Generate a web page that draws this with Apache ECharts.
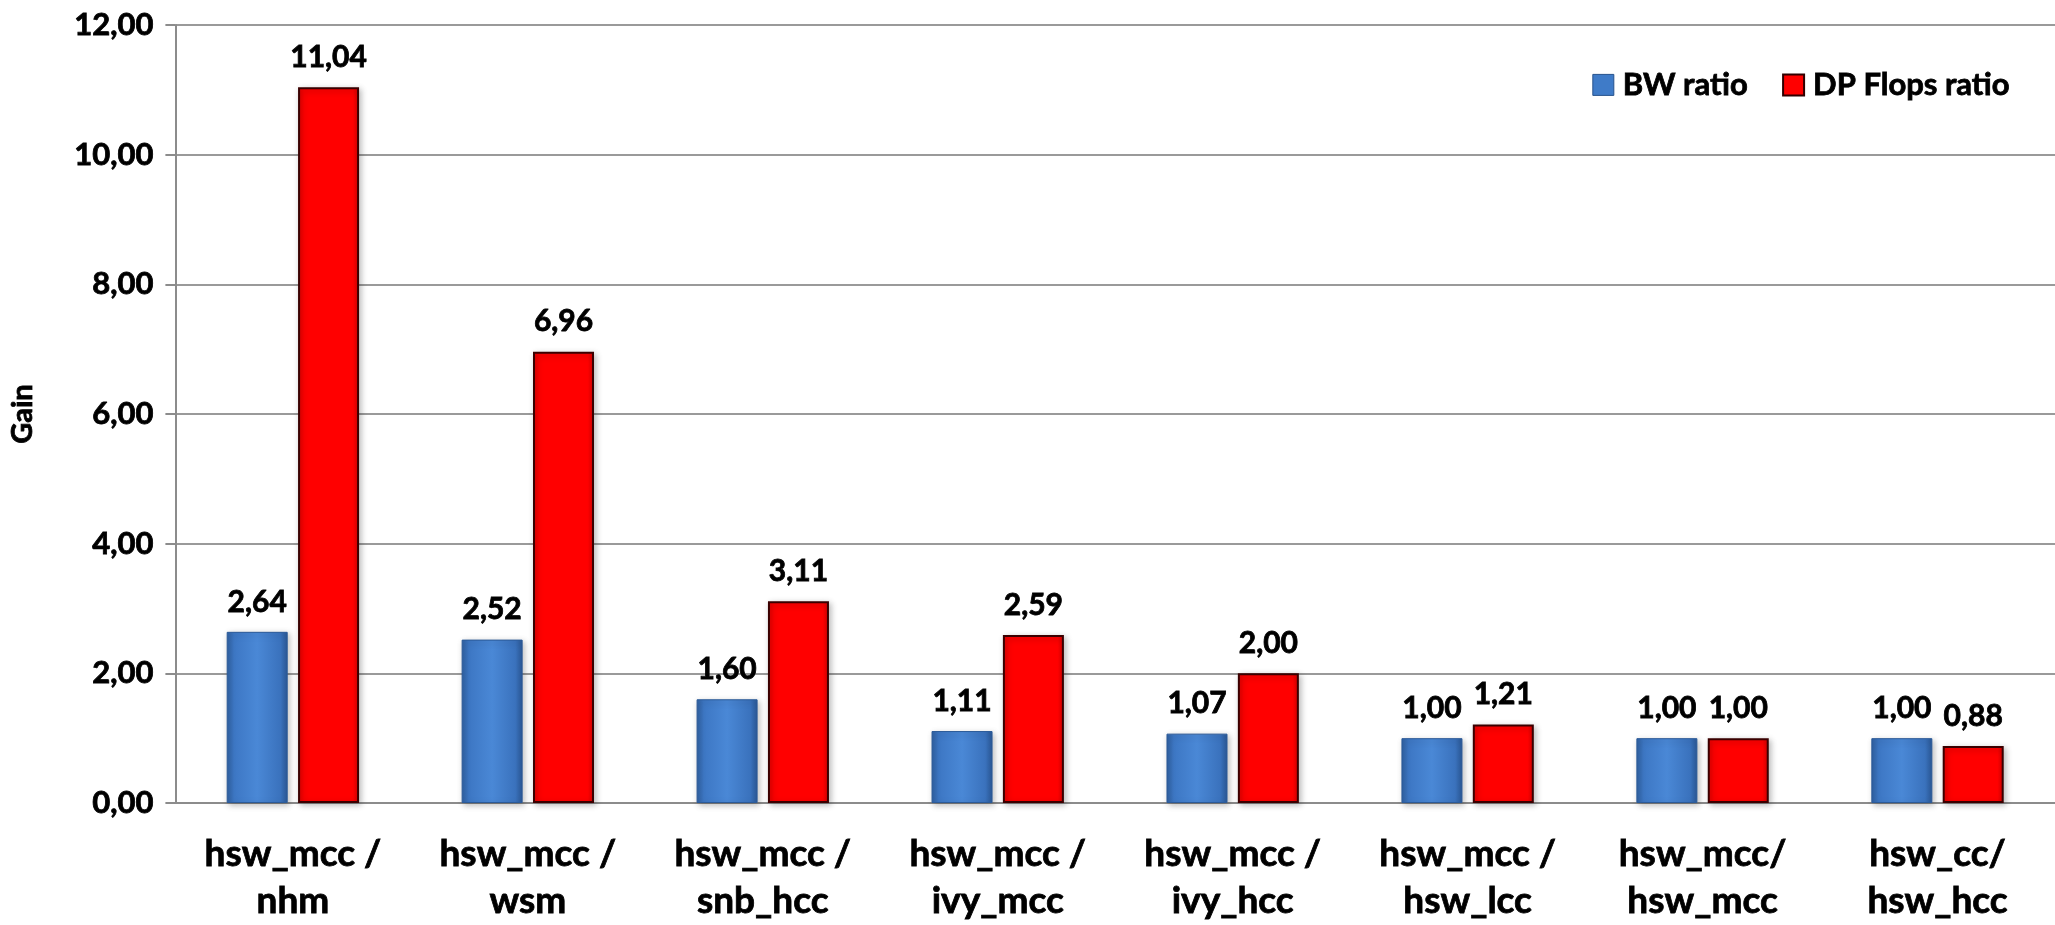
<!DOCTYPE html>
<html>
<head>
<meta charset="utf-8">
<script src="https://cdn.jsdelivr.net/npm/echarts@6/dist/echarts.min.js"></script>
<style>
  html, body { margin: 0; padding: 0; background: #ffffff; }
  #chart { width: 2055px; height: 925px; }
</style>
</head>
<body>
<div id="chart"></div>
<script>
// Architecture comparison: bandwidth ratio vs double-precision FLOPS ratio
const categories = [
  'hsw_mcc /\nnhm',
  'hsw_mcc /\nwsm',
  'hsw_mcc /\nsnb_hcc',
  'hsw_mcc /\nivy_mcc',
  'hsw_mcc /\nivy_hcc',
  'hsw_mcc /\nhsw_lcc',
  'hsw_mcc/\nhsw_mcc',
  'hsw_cc/\nhsw_hcc'
];
const bwRatio = [2.64, 2.52, 1.60, 1.11, 1.07, 1.00, 1.00, 1.00];
const dpFlopsRatio = [11.04, 6.96, 3.11, 2.59, 2.00, 1.21, 1.00, 0.88];
const yTicks = { min: 0, max: 12, interval: 2 };

const FONT = 'Lato, "Open Sans", sans-serif';
const comma = v => Number(v).toFixed(2).replace('.', ',');
// a thin outline in the text colour makes the bold glyphs a little heavier
const heavy = { textBorderColor: '#000', textBorderWidth: 0.8 };

const chart = echarts.init(document.getElementById('chart'), null, { renderer: 'canvas' });

const blueFill = new echarts.graphic.LinearGradient(0, 0, 1, 0, [
  { offset: 0, color: '#2f5f9f' },
  { offset: 0.12, color: '#3d77c4' },
  { offset: 0.5, color: '#4a88d6' },
  { offset: 0.88, color: '#3a72bd' },
  { offset: 1, color: '#2a5794' }
]);
const redFill = new echarts.graphic.LinearGradient(0, 0, 1, 0, [
  { offset: 0, color: '#e00000' },
  { offset: 0.1, color: '#ff0000' },
  { offset: 0.9, color: '#ff0000' },
  { offset: 1, color: '#d00000' }
]);

const dataLabel = Object.assign({
  show: true,
  position: 'top',
  distance: 15,
  formatter: p => comma(p.value),
  fontFamily: FONT,
  fontWeight: 'bold',
  fontSize: 30,
  color: '#000000'
}, heavy);

chart.setOption({
  animation: false,
  backgroundColor: '#ffffff',
  grid: { left: 165, top: 25, width: 1907, height: 778, containLabel: false },
  legend: {
    right: 40,
    top: 64,
    itemWidth: 21,
    itemHeight: 21,
    itemGap: 34,
    icon: 'rect',
    textStyle: Object.assign({ fontFamily: FONT, fontWeight: 'bold', fontSize: 31, color: '#000', padding: [0, 0, 0, 4] }, heavy),
    data: [
      { name: 'BW ratio', itemStyle: { color: '#3f7bc8', borderColor: '#27528c', borderWidth: 1 } },
      { name: 'DP Flops ratio', itemStyle: { color: '#ff0000', borderColor: '#300000', borderWidth: 2 } }
    ]
  },
  xAxis: {
    type: 'category',
    data: categories,
    axisLine: { show: true, lineStyle: { color: '#8c8c8c', width: 2 } },
    axisTick: { show: false },
    axisLabel: Object.assign({
      margin: 28,
      fontFamily: FONT,
      fontWeight: 'bold',
      fontSize: 37,
      lineHeight: 47,
      color: '#000',
      interval: 0
    }, heavy)
  },
  yAxis: {
    type: 'value',
    min: yTicks.min,
    max: yTicks.max,
    interval: yTicks.interval,
    name: 'Gain',
    nameLocation: 'middle',
    nameGap: 138,
    nameTextStyle: Object.assign({ fontFamily: FONT, fontWeight: 'bold', fontSize: 29, color: '#000' }, heavy),
    axisLine: { show: true, lineStyle: { color: '#8c8c8c', width: 2 } },
    axisTick: { show: true, length: 10, lineStyle: { color: '#8c8c8c', width: 2 } },
    axisLabel: Object.assign({
      margin: 22,
      formatter: v => comma(v),
      fontFamily: FONT,
      fontWeight: 'bold',
      fontSize: 31,
      color: '#000'
    }, heavy),
    splitLine: { show: true, lineStyle: { color: '#9a9a9a', width: 2 } }
  },
  series: [
    {
      name: 'BW ratio',
      type: 'bar',
      data: bwRatio,
      barWidth: 61,
      barGap: '17%',
      itemStyle: {
        color: blueFill,
        borderColor: '#2b5a98',
        borderWidth: 1,
        shadowColor: 'rgba(0,0,0,0.25)',
        shadowBlur: 6,
        shadowOffsetX: 2,
        shadowOffsetY: 2
      },
      label: dataLabel
    },
    {
      name: 'DP Flops ratio',
      type: 'bar',
      data: dpFlopsRatio,
      barWidth: 61,
      itemStyle: {
        color: redFill,
        borderColor: '#3a0000',
        borderWidth: 2,
        shadowColor: 'rgba(0,0,0,0.25)',
        shadowBlur: 6,
        shadowOffsetX: 2,
        shadowOffsetY: 2
      },
      label: dataLabel
    }
  ]
});
</script>
</body>
</html>
